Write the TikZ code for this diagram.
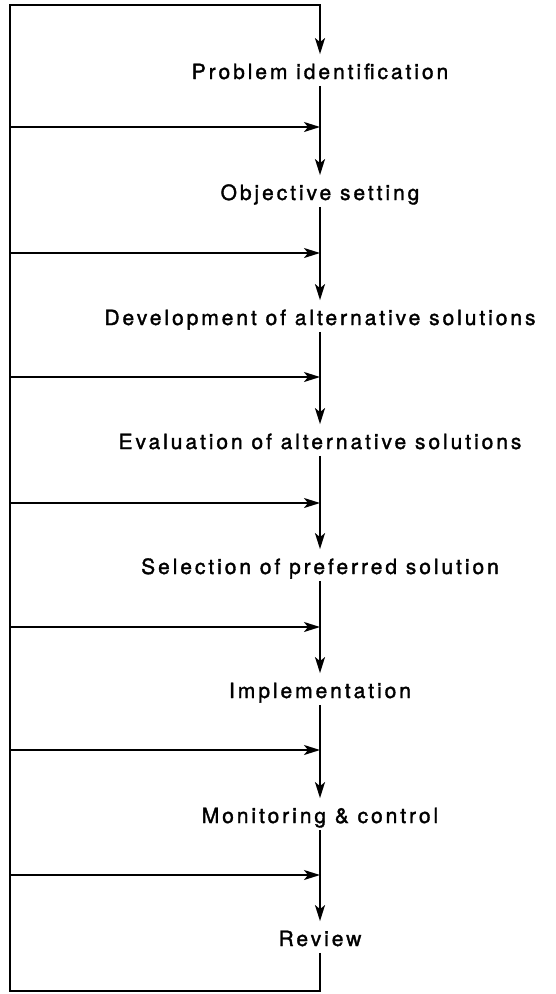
\documentclass[tikz,border=0pt]{standalone}
\usepackage{fontspec}
\setmainfont{TeX Gyre Heros}[LetterSpace=14, FakeBold=1.6]
\usepackage{tikz}
\usetikzlibrary{arrows.meta}

\begin{document}
\begin{tikzpicture}[x=1pt, y=-1pt, line width=1.8pt,
		stage/.style={inner xsep=0pt, inner ysep=6pt, text height=18pt, text depth=0pt, font=\fontsize{21}{24}\selectfont},
		flow/.style={-{Stealth[length=16pt, width=10pt, inset=4pt]}}]
			\useasboundingbox (0,0) rectangle (556,994);
			% Stages
			\foreach \i/\y/\t in {1/70/{Problem identification}, 2/191/{Objective setting}, 3/316/{Development of alternative solutions}, 4/440/{Evaluation of alternative solutions}, 5/565/{Selection of preferred solution}, 6/689/{Implementation}, 7/814/{Monitoring \& control}, 8/937/{Review}} {
				\node[stage] (stage\i) at (320, \y) {\t};
			}
			% Feedback joins
			\foreach \i/\y in {1/127, 2/253, 3/377, 4/503, 5/627, 6/750, 7/875} {
				\coordinate (join\i) at (320, \y);
				\coordinate (left\i) at (10, \y);
			}
			\coordinate (topleft) at (10, 5);
			\coordinate (botleft) at (10, 991);
			\draw[flow] (stage8) |- (botleft) -- (topleft) -| (stage1);
			\foreach \i [evaluate=\i as \n using int(\i+1)] in {1,...,7} {
				\draw (stage\i) -- (join\i);
				\draw[flow] (join\i) -- (stage\n);
				\draw[flow] (left\i) -- (join\i);
			}
		\end{tikzpicture}
\end{document}
